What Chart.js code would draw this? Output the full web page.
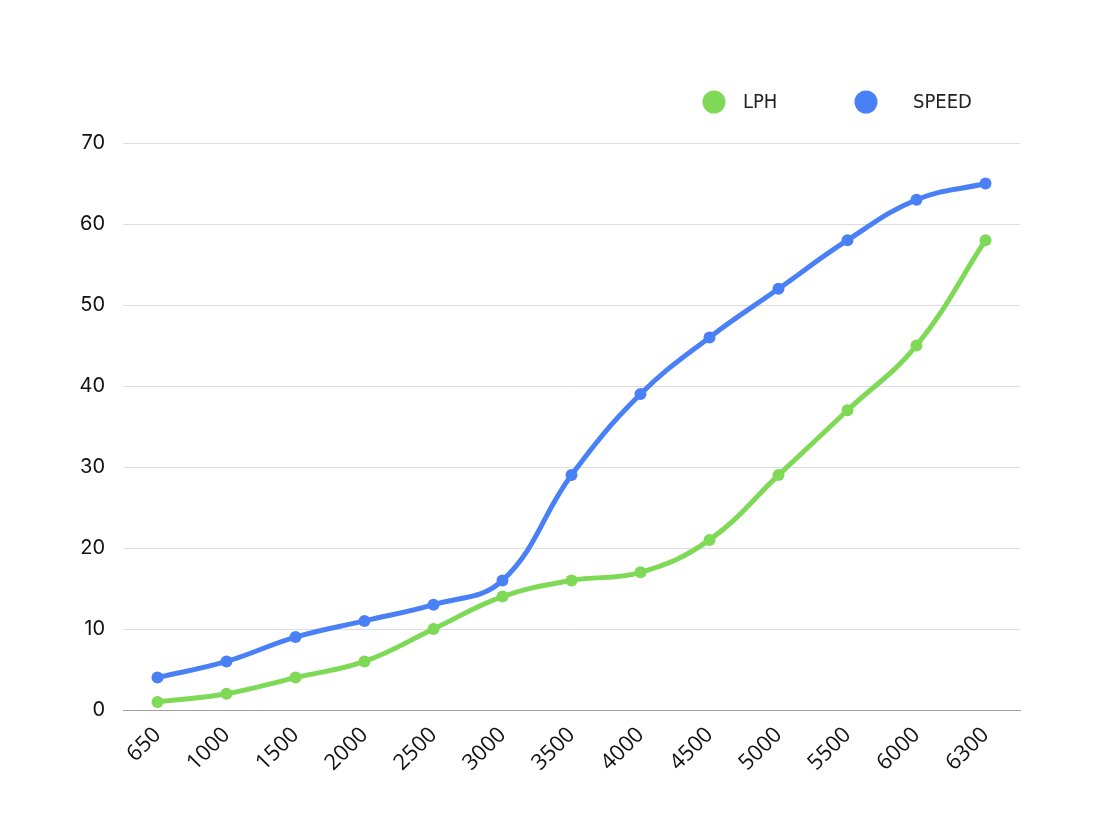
<!DOCTYPE html>
<html>
<head>
<meta charset="utf-8">
<script src="https://cdn.jsdelivr.net/npm/chart.js@4/dist/chart.umd.min.js"></script>
<style>
  html, body { margin: 0; padding: 0; background: #fff; }
  #wrap { width: 1106px; height: 828px; }
</style>
</head>
<body>
<div id="wrap"><canvas id="rpm-chart" width="1106" height="828"></canvas></div>
<script>
const rpmLabels = ['650', '1000', '1500', '2000', '2500', '3000', '3500', '4000', '4500', '5000', '5500', '6000', '6300'];
const lphValues = [1, 2, 4, 6, 10, 14, 16, 17, 21, 29, 37, 45, 58];
const speedValues = [4, 6, 9, 11, 13, 16, 29, 39, 46, 52, 58, 63, 65];

const GREEN = '#7ed957';
const BLUE = '#4a80f5';

// simple dot legend drawn at fixed spots, like the original
const dotLegend = {
    id: 'dotLegend',
    afterDraw(chart, args, opts) {
        const ctx = chart.ctx;
        ctx.save();
        chart.data.datasets.forEach((ds, i) => {
            const item = opts.items[i];
            ctx.beginPath();
            ctx.fillStyle = ds.borderColor;
            ctx.arc(item.x, item.y, 11.5, 0, Math.PI * 2);
            ctx.fill();
            ctx.fillStyle = '#222';
            ctx.font = '20px "DejaVu Sans Condensed", "Liberation Sans Narrow", sans-serif';
            ctx.textBaseline = 'middle';
            ctx.fillText(ds.label, item.tx, item.y + 1);
        });
        ctx.restore();
    }
};

const ctx = document.getElementById('rpm-chart');
new Chart(ctx, {
    type: 'line',
    data: {
        labels: rpmLabels,
        datasets: [{
            label: 'LPH',
            data: lphValues,
            borderColor: GREEN,
            backgroundColor: GREEN,
            borderWidth: 5,
            pointRadius: 6,
            pointBackgroundColor: GREEN,
            pointBorderWidth: 0,
            tension: 0.4,
            fill: false
        }, {
            label: 'SPEED',
            data: speedValues,
            borderColor: BLUE,
            backgroundColor: BLUE,
            borderWidth: 5,
            pointRadius: 6,
            pointBackgroundColor: BLUE,
            pointBorderWidth: 0,
            tension: 0.4,
            fill: false
        }]
    },
    options: {
        responsive: false,
        animation: false,
        layout: {
            padding: { top: 143, right: 86, bottom: 0, left: 0 }
        },
        plugins: {
            legend: { display: false },
            tooltip: { enabled: false },
            dotLegend: {
                items: [
                    { x: 714, y: 102, tx: 743 },
                    { x: 866, y: 102, tx: 913 }
                ]
            }
        },
        scales: {
            x: {
                offset: true,
                grid: { display: false, drawTicks: false },
                border: { display: true, color: '#9e9e9e', width: 1 },
                ticks: {
                    color: '#111',
                    font: { family: '"Open Sans"', size: 22 },
                    minRotation: 45,
                    maxRotation: 45,
                    padding: 12
                },
                afterFit(scale) {
                    scale.height = 118;
                }
            },
            y: {
                min: 0,
                max: 70,
                ticks: {
                    stepSize: 10,
                    color: '#111',
                    font: { family: 'Inter', size: 20 },
                    padding: 18
                },
                grid: { color: '#dddddd', lineWidth: 1, drawTicks: false },
                border: { display: false },
                afterFit(scale) {
                    scale.width = 123;
                }
            }
        }
    },
    plugins: [dotLegend]
});
</script>
</body>
</html>
